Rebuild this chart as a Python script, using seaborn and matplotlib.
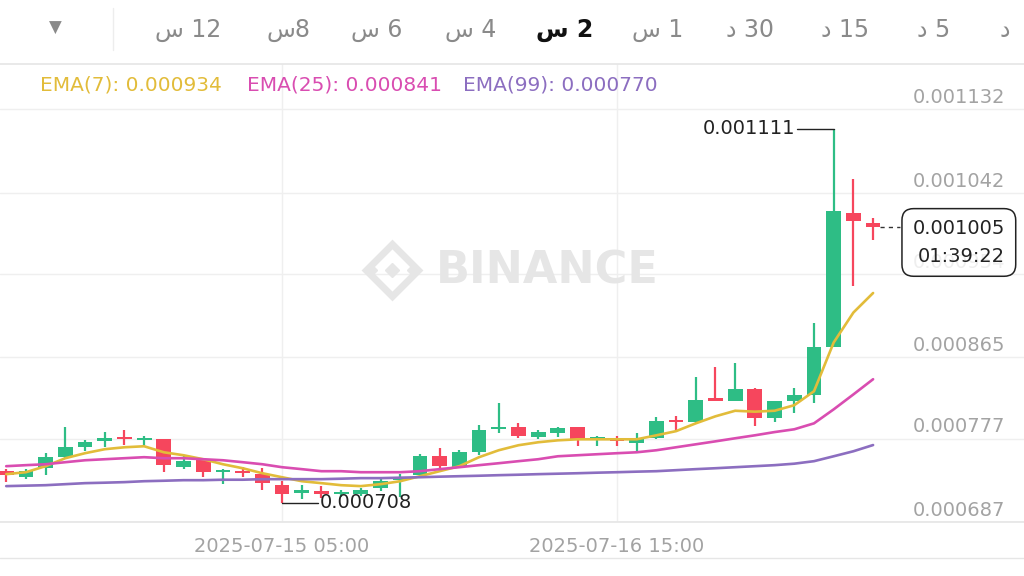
import numpy as np
import pandas as pd
import matplotlib
matplotlib.use("Agg")
import matplotlib.pyplot as plt
import seaborn as sns

sns.set_theme(style="white")
plt.rcParams['font.family'] = ['DejaVu Sans']

# 2h candles
times = pd.date_range("2025-07-14 01:00", periods=45, freq="2h")

opens = [0.000742, 0.000736, 0.000745, 0.000757, 0.000768, 0.000774, 0.000778, 0.000775, 0.000776,
         0.000746, 0.000755, 0.000741, 0.000742, 0.000739, 0.000727, 0.000718, 0.000720, 0.000717,
         0.000717, 0.000724, 0.000732, 0.000738, 0.000758, 0.000746, 0.000763, 0.000787, 0.000790,
         0.000779, 0.000783, 0.000789, 0.000776, 0.000776, 0.000772, 0.000778, 0.000797, 0.000795,
         0.000820, 0.000818, 0.000830, 0.000799, 0.000817, 0.000824, 0.000876, 0.001020, 0.001010]
highs = [0.000744, 0.000744, 0.000761, 0.000789, 0.000775, 0.000784, 0.000786, 0.000780, 0.000777,
         0.000758, 0.000756, 0.000744, 0.000746, 0.000745, 0.000731, 0.000727, 0.000726, 0.000722,
         0.000724, 0.000735, 0.000739, 0.000760, 0.000767, 0.000765, 0.000792, 0.000815, 0.000794,
         0.000786, 0.000790, 0.000790, 0.000780, 0.000780, 0.000783, 0.000800, 0.000801, 0.000843,
         0.000854, 0.000859, 0.000832, 0.000817, 0.000831, 0.000902, 0.001111, 0.001057, 0.001015]
lows = [0.000730, 0.000733, 0.000738, 0.000756, 0.000764, 0.000768, 0.000770, 0.000769, 0.000741,
        0.000744, 0.000736, 0.000728, 0.000736, 0.000722, 0.000708, 0.000712, 0.000713, 0.000714,
        0.000715, 0.000720, 0.000714, 0.000735, 0.000742, 0.000745, 0.000759, 0.000783, 0.000778,
        0.000776, 0.000779, 0.000769, 0.000769, 0.000769, 0.000764, 0.000776, 0.000786, 0.000793,
        0.000817, 0.000817, 0.000791, 0.000795, 0.000805, 0.000815, 0.000876, 0.000942, 0.000991]
closes = [0.000738, 0.000742, 0.000757, 0.000768, 0.000773, 0.000778, 0.000776, 0.000777, 0.000748,
          0.000753, 0.000741, 0.000743, 0.000740, 0.000729, 0.000717, 0.000721, 0.000717, 0.000719,
          0.000721, 0.000731, 0.000736, 0.000758, 0.000747, 0.000763, 0.000786, 0.000790, 0.000780,
          0.000784, 0.000788, 0.000776, 0.000778, 0.000774, 0.000776, 0.000796, 0.000795, 0.000819,
          0.000818, 0.000830, 0.000799, 0.000817, 0.000824, 0.000876, 0.001022, 0.001012, 0.001005]

ema7 = [0.0007386, 0.0007407, 0.0007472, 0.0007558, 0.0007612, 0.0007655, 0.0007676, 0.0007687,
        0.0007622, 0.0007590, 0.0007547, 0.0007493, 0.0007450, 0.0007396, 0.0007353, 0.0007310,
        0.0007289, 0.0007267, 0.0007257, 0.0007278, 0.0007310, 0.0007364, 0.0007418, 0.0007472,
        0.0007569, 0.0007644, 0.0007698, 0.0007730, 0.0007751, 0.0007762, 0.0007762, 0.0007762,
        0.0007762, 0.0007805, 0.0007850, 0.0007934, 0.0008010, 0.0008070, 0.0008060, 0.0008070,
        0.0008130, 0.0008280, 0.0008806, 0.0009129, 0.0009340]
ema25 = [0.0007472, 0.0007483, 0.0007493, 0.0007515, 0.0007536, 0.0007547, 0.0007558, 0.0007569,
         0.0007558, 0.0007558, 0.0007547, 0.0007536, 0.0007515, 0.0007493, 0.0007461, 0.0007440,
         0.0007418, 0.0007418, 0.0007407, 0.0007407, 0.0007407, 0.0007418, 0.0007440, 0.0007461,
         0.0007483, 0.0007504, 0.0007526, 0.0007547, 0.0007579, 0.0007590, 0.0007601, 0.0007612,
         0.0007622, 0.0007644, 0.0007676, 0.0007708, 0.0007740, 0.0007773, 0.0007805, 0.0007840,
         0.0007870, 0.0007934, 0.0008085, 0.0008246, 0.0008410]
ema99 = [0.0007257, 0.0007262, 0.0007267, 0.0007278, 0.0007289, 0.0007294, 0.0007300, 0.0007310,
         0.0007315, 0.0007321, 0.0007321, 0.0007326, 0.0007326, 0.0007332, 0.0007332, 0.0007332,
         0.0007332, 0.0007337, 0.0007343, 0.0007343, 0.0007348, 0.0007353, 0.0007359, 0.0007364,
         0.0007369, 0.0007375, 0.0007380, 0.0007386, 0.0007391, 0.0007396, 0.0007402, 0.0007407,
         0.0007413, 0.0007418, 0.0007429, 0.0007440, 0.0007450, 0.0007461, 0.0007472, 0.0007483,
         0.0007499, 0.0007526, 0.0007579, 0.0007633, 0.0007700]

ema_labels = ["EMA(7): 0.000934", "EMA(25): 0.000841", "EMA(99): 0.000770"]
price_ticks = [0.000687, 0.000777, 0.000865, 0.000954, 0.001042, 0.001132]
tabs = ["س 12", "س8", "س 6", "س 4", "س 2", "س 1", "د 30", "د 15", "د 5", "د"]
tab_x = [188, 289, 377, 471, 565, 658, 750, 845, 934, 1005]
selected_tab = 4

GREEN = "#2EBD85"
RED = "#F6465D"
ema_colors = ["#E2BC3A", "#D94DB1", "#8C6EC0"]
GRAY = "#A3A3A3"

fig = plt.figure(figsize=(10.24, 5.76), dpi=100)
ax = fig.add_axes([0, 54 / 576, 1, 458 / 576])

idx = np.arange(len(times))
o = np.array(opens)
c = np.array(closes)
colors = np.where(c >= o, GREEN, RED)

# candles
ax.vlines(idx, lows, highs, colors=colors, linewidth=1.6, zorder=3)
body_h = np.maximum(np.abs(c - o), 0.0000025)
ax.bar(idx, body_h, bottom=np.minimum(o, c), width=0.75, color=colors, linewidth=0, zorder=3)

ema_df = pd.DataFrame({"idx": idx, "EMA(7)": ema7, "EMA(25)": ema25, "EMA(99)": ema99})
ema_df = ema_df.melt(id_vars="idx", var_name="ema", value_name="price")
sns.lineplot(data=ema_df, x="idx", y="price", hue="ema", palette=ema_colors,
             linewidth=1.9, legend=False, ax=ax, zorder=4)

ax.set_xlim(-0.315, 51.66)
ax.set_ylim(0.000687, 0.001181)
ax.set_xlabel("")
ax.set_ylabel("")

ax.set_yticks(price_ticks)
ax.set_xticks([14, 31])
ax.set_xticklabels([times[14].strftime("%Y-%m-%d %H:%M"), times[31].strftime("%Y-%m-%d %H:%M")])
ax.tick_params(axis="x", length=0, pad=11, labelsize=14, labelcolor=GRAY)
ax.tick_params(axis="y", left=False, labelleft=False)
ax.grid(True, color="#EFEFEF", linewidth=1)
for side in ["left", "right"]:
    ax.spines[side].set_visible(False)
for side in ["top", "bottom"]:
    ax.spines[side].set_color("#E6E6E6")

# price labels on the right, above their grid line
for p in price_ticks:
    ax.annotate(f"{p:.6f}", xy=(1005 / 1024, p), xycoords=ax.get_yaxis_transform(),
                xytext=(0, 8.5), textcoords="offset points", ha="right", va="center",
                fontsize=14, color=GRAY, zorder=2)

# high / low markers
hi = int(np.argmax(highs))
lo = int(np.argmin(lows))
ax.plot([hi - 1.86, hi], [highs[hi], highs[hi]], color="#222222", linewidth=1, zorder=4)
ax.text(hi - 1.96, highs[hi], f"{highs[hi]:.6f}", ha="right", va="center", fontsize=14, color="#222222")
ax.plot([lo, lo + 1.83], [lows[lo], lows[lo]], color="#222222", linewidth=1, zorder=4)
ax.text(lo + 1.9, lows[lo], f"{lows[lo]:.6f}", ha="left", va="center", fontsize=14, color="#222222")

# last price box (slightly see-through, the grid label shows behind it)
last = len(closes) - 1
ax.plot([last + 0.36, last + 1.37], [closes[-1], closes[-1]], color="#333333",
        linewidth=1, linestyle=(0, (3, 3)), zorder=4)
ax.annotate(f"{closes[-1]:.6f}\n01:39:22", xy=(last, closes[-1]), xytext=(95, -11),
            textcoords="offset points", ha="right", va="center", multialignment="right",
            fontsize=14, color="#222222", linespacing=1.55, zorder=6,
            bbox=dict(boxstyle="round,pad=0.55,rounding_size=0.6", fc=(1, 1, 1, 0.82),
                      ec="#222222", lw=1.1))

# watermark
ax.text(0.534, 0.548, "BINANCE", transform=ax.transAxes, ha="center", va="center",
        fontsize=32, fontweight="bold", color="#E6E6E6", zorder=1)
ax.plot([0.3828], [0.5502], marker="D", markersize=26, markerfacecolor="none",
        markeredgecolor="#E6E6E6", markeredgewidth=5, transform=ax.transAxes, zorder=1)
ax.plot([0.3828, 0.3613, 0.4043], [0.5502, 0.5502, 0.5502], linestyle="none", marker="D",
        markersize=7, color="#E6E6E6", transform=ax.transAxes, zorder=1)

# EMA legend row
for label, col, x in zip(ema_labels, ema_colors, [40, 247, 463]):
    fig.text(x / 1024, 1 - 85 / 576, label, ha="left", va="center", fontsize=14.5, color=col)

# interval tabs
fig.text(55 / 1024, 1 - 28 / 576, "▼", ha="center", va="center", fontsize=12, color="#8A8A8A")
fig.add_artist(plt.Line2D([113 / 1024, 113 / 1024], [1 - 8 / 576, 1 - 50 / 576], color="#EDEDED", linewidth=1))
for i, (t, x) in enumerate(zip(tabs, tab_x)):
    sel = i == selected_tab
    fig.text(x / 1024, 1 - 30 / 576, t, ha="center", va="center", fontsize=17,
             color="#111111" if sel else "#8A8A8A", fontweight="bold" if sel else "normal")

fig.add_artist(plt.Line2D([0, 1], [1 - 558 / 576, 1 - 558 / 576], color="#E6E6E6", linewidth=1))

fig.savefig("out.png", dpi=100)
plt.close()
